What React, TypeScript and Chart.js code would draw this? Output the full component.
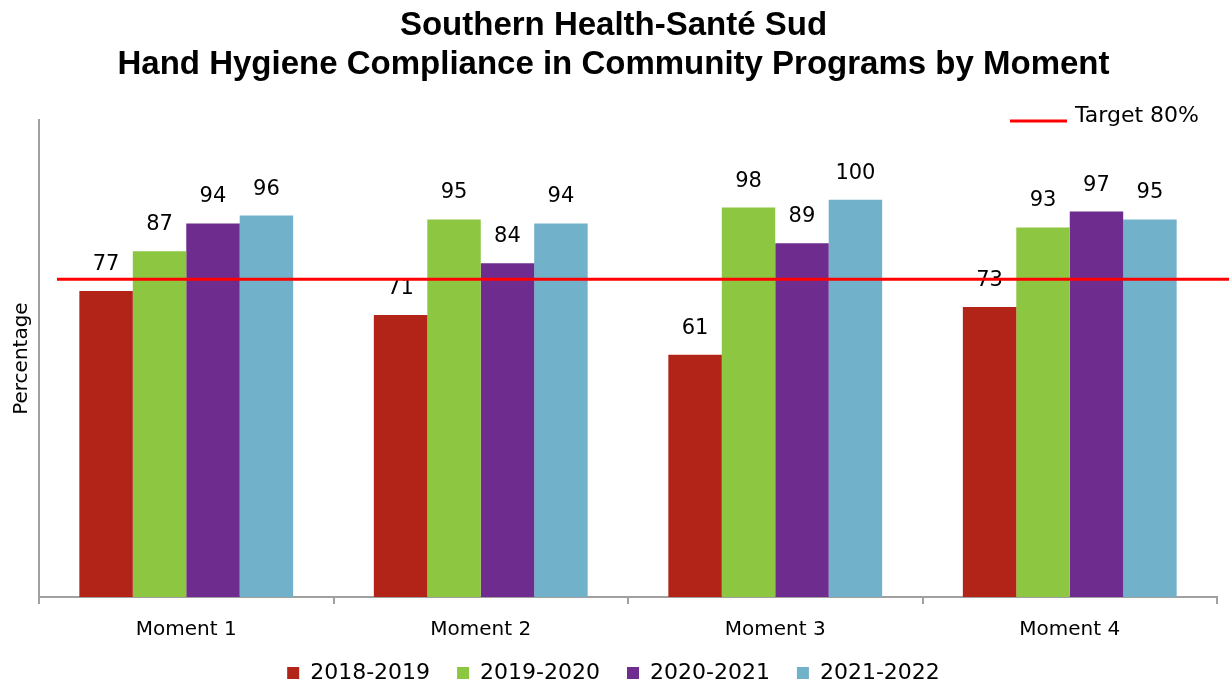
import React, { useEffect, useRef } from "react";
import { Chart, registerables } from "chart.js";

Chart.register(...registerables);

const categories = ["Moment 1", "Moment 2", "Moment 3", "Moment 4"];
const seriesNames = ["2018-2019", "2019-2020", "2020-2021", "2021-2022"];
const values2018 = [77, 71, 61, 73];
const values2019 = [87, 95, 98, 93];
const values2020 = [94, 84, 89, 97];
const values2021 = [96, 94, 100, 95];
const seriesColors = ["#B22418", "#8DC641", "#6F2C8F", "#71B1CA"];
const targetValue = 80;
const targetLabel = "Target 80%";
const titleLines = ["Southern Health-Santé Sud", "Hand Hygiene Compliance in Community Programs by Moment"];
const yAxisTitle = "Percentage";

const LABEL_FONT = "'DejaVu Sans', sans-serif";

const overlayPlugin = {
  id: "overlay",
  afterDatasetsDraw(chart: any) {
    const ctx = chart.ctx;
    const area = chart.chartArea;
    const y = chart.scales.y.getPixelForValue(targetValue);
    ctx.save();
    // data labels
    ctx.fillStyle = "#000";
    ctx.font = `21px ${LABEL_FONT}`;
    ctx.textAlign = "center";
    ctx.textBaseline = "bottom";
    chart.data.datasets.forEach((ds: any, i: number) => {
      const meta = chart.getDatasetMeta(i);
      meta.data.forEach((bar: any, j: number) => {
        ctx.fillText(String(ds.data[j]), bar.x, bar.y - 16);
      });
    });
    // target line
    ctx.strokeStyle = "#FF0000";
    ctx.lineWidth = 3;
    ctx.beginPath();
    ctx.moveTo(area.left + 18, y);
    ctx.lineTo(chart.width, y);
    ctx.stroke();
    // target legend
    ctx.beginPath();
    ctx.moveTo(1010, 121);
    ctx.lineTo(1067, 121);
    ctx.stroke();
    ctx.fillStyle = "#000";
    ctx.font = `22px ${LABEL_FONT}`;
    ctx.textAlign = "left";
    ctx.textBaseline = "middle";
    ctx.fillText(targetLabel, 1075, 116);
    ctx.restore();
  },
};

export default function App() {
  const ref = useRef<HTMLCanvasElement | null>(null);
  useEffect(() => {
    document.body.style.margin = "0";
    const dataSets = [values2018, values2019, values2020, values2021];
    const chart = new Chart(ref.current as HTMLCanvasElement, {
      type: "bar",
      data: {
        labels: categories,
        datasets: dataSets.map((d, i) => ({
          label: seriesNames[i],
          data: d,
          backgroundColor: seriesColors[i],
          borderWidth: 0,
          barPercentage: 1,
          categoryPercentage: 0.726,
        })),
      },
      options: {
        animation: false,
        responsive: false,
        maintainAspectRatio: false,
        layout: { padding: { left: 10, right: 12, top: 0, bottom: 0 } },
        plugins: {
          title: {
            display: true,
            text: titleLines,
            color: "#000",
            font: { family: "'Liberation Sans', sans-serif", size: 33, weight: "bold", lineHeight: 1.2 },
            padding: { top: 6, bottom: 35 },
          },
          legend: {
            display: true,
            position: "bottom",
            maxHeight: 48,
            labels: {
              color: "#000",
              boxWidth: 12,
              boxHeight: 12,
              padding: 27,
              font: { family: LABEL_FONT, size: 22 },
            },
          },
          tooltip: { enabled: false },
        },
        scales: {
          x: {
            afterFit: (scale: any) => {
              scale.height = 38;
            },
            grid: {
              display: true,
              offset: true,
              drawOnChartArea: false,
              tickLength: 7,
              color: "#A0A0A0",
              lineWidth: 2,
            },
            border: { display: true, color: "#A0A0A0", width: 2 },
            ticks: { color: "#000", font: { family: LABEL_FONT, size: 20 }, padding: 14 },
          },
          y: {
            min: 0,
            max: 120,
            afterFit: (scale: any) => {
              scale.width = 29;
            },
            grid: { display: false },
            border: { display: true, color: "#A0A0A0", width: 2 },
            ticks: { display: false },
            title: {
              display: true,
              text: yAxisTitle,
              color: "#000",
              font: { family: LABEL_FONT, size: 20 },
              padding: { top: 0, bottom: 0 },
            },
          },
        },
      },
      plugins: [overlayPlugin],
    });
    return () => chart.destroy();
  }, []);
  return (
    <div style={{ width: 1229, height: 683 }}>
      <canvas ref={ref} width={1229} height={683} style={{ display: "block" }} />
    </div>
  );
}
